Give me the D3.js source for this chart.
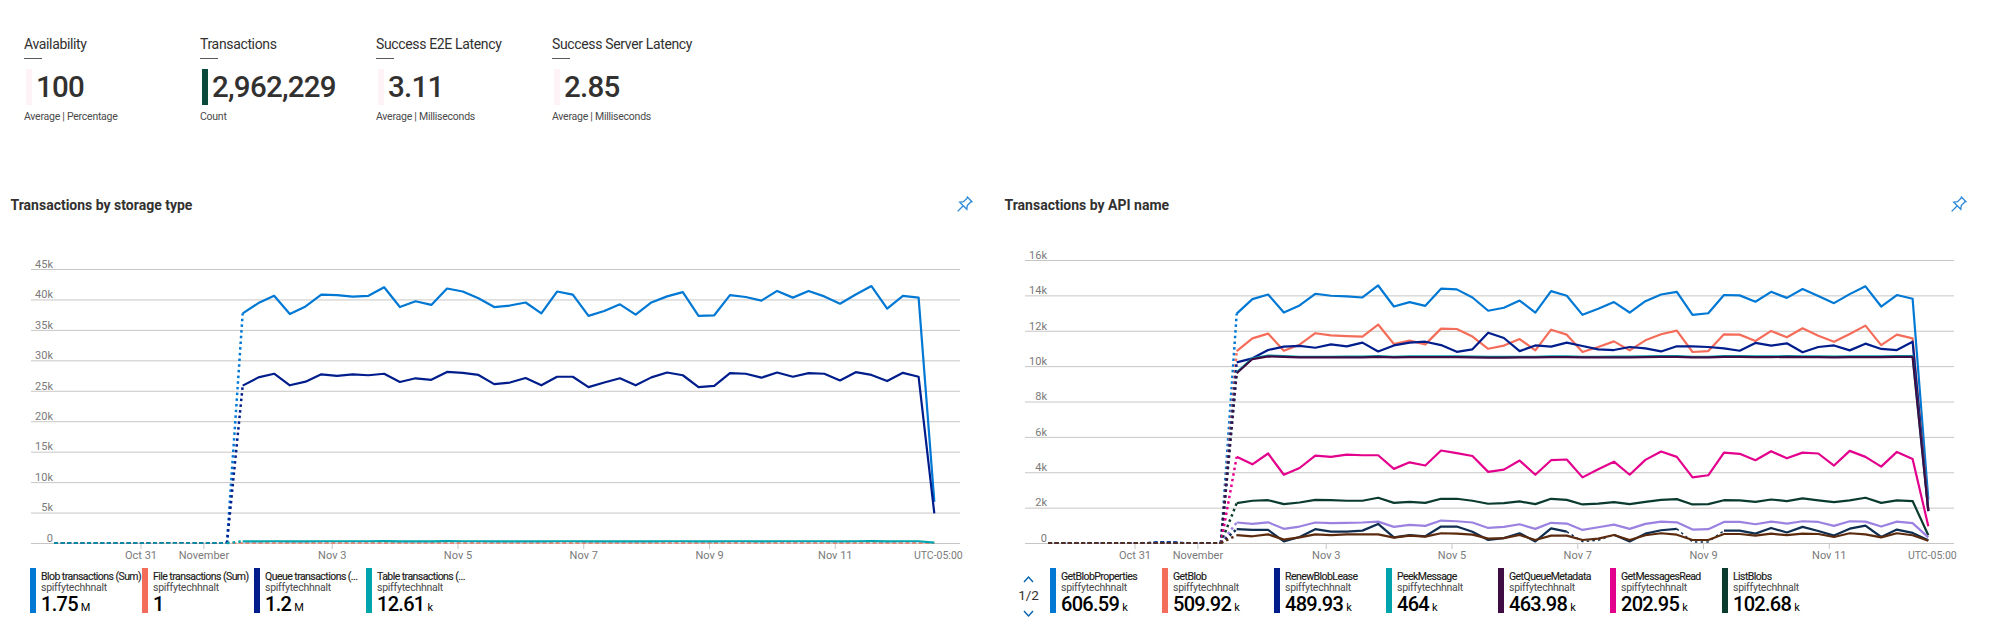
<!DOCTYPE html>
<html><head><meta charset="utf-8">
<script src="https://cdn.jsdelivr.net/npm/d3@7"></script>
<style>
html,body{margin:0;padding:0;background:#fff;overflow:hidden}
svg{display:block}
text{font-family:Roboto,"Open Sans",sans-serif}
</style></head><body><svg id="c" width="1993" height="643"></svg>
<script>
// KPI tiles
const kpiTitles=["Availability","Transactions","Success E2E Latency","Success Server Latency"];
const kpiValues=["100","2,962,229","3.11","2.85"];
const kpiSubs=["Average | Percentage","Count","Average | Milliseconds","Average | Milliseconds"];
const kpiBars=["#fef4f7","#0a4a3c","#fef4f7","#fef4f7"];

// Shared time axis, hours since Oct 31 00:00 local
const hours=d3.range(-33,304,6);
const tickHours=[0,24,73,121,169,217,265];
const tickLabels=["Oct 31","November","Nov 3","Nov 5","Nov 7","Nov 9","Nov 11"];

// Quiet period before the first busy sample (12 samples)
const idle=[0,0,0,0,0,0,0,0,0,0,0,0];
const idleBump=[0,0,0,0,0,0,0,0.06,0.06,0,0,0];

// Left chart (thousands)
const leftTicks=[0,5,10,15,20,25,30,35,40,45];
const blobTx=[37.7,39.4,40.6,37.6,38.85,40.8,40.7,40.45,40.6,42.0,38.75,39.7,39.1,41.8,41.3,40.2,38.75,39,39.5,37.7,41.3,40.8,37.3,38.1,39.2,37.5,39.5,40.5,41.2,37.3,37.4,40.7,40.4,39.8,41.4,40.3,41.4,40.5,39.3,40.8,42.2,38.5,40.6,40.3,6.75];
const fileTx=[0,0,0,0,0,0,0,0,0,0,0,0,0,0,0,0,0,0,0,0,0,0,0,0,0,0,0,0,0,0,0,0,0,0,0,0,0,0,0,0,0,0,0,0,0];
const queueTx=[25.85,27.2,27.8,25.9,26.5,27.7,27.45,27.7,27.55,27.8,26.45,27.05,26.8,28.1,27.95,27.6,26.1,26.35,27.1,25.9,27.3,27.3,25.6,26.35,27.05,25.9,27.2,28,27.55,25.6,25.8,27.9,27.8,27.15,28,27.3,27.9,27.8,26.7,28.05,27.6,26.6,27.95,27.3,4.85];
const tableTx=[0.27,0.28,0.29,0.27,0.28,0.29,0.29,0.29,0.29,0.3,0.27,0.28,0.28,0.3,0.29,0.29,0.27,0.27,0.28,0.27,0.29,0.29,0.27,0.27,0.28,0.27,0.28,0.29,0.29,0.27,0.27,0.29,0.29,0.28,0.29,0.29,0.29,0.29,0.28,0.29,0.3,0.27,0.29,0.29,0.05];
const leftNames=["Blob transactions (Sum)","File transactions (Sum)","Queue transactions (...","Table transactions (..."];
const leftTotals=["1.75","1","1.2","12.61"];
const leftUnits=["M","","M","k"];
const leftColors=["#0078d4","#f46d5a","#001d8c","#00a4ad"];

// Right chart (thousands)
const rightTicks=[0,2,4,6,8,10,12,14,16];
const getBlobProperties=[12.97,13.79,14.05,13.03,13.43,14.09,13.98,13.94,13.88,14.56,13.37,13.62,13.41,14.38,14.34,13.88,13.13,13.30,13.71,13.03,14.24,13.98,12.90,13.24,13.62,13.03,13.67,14.05,14.20,12.90,12.99,14.02,14.0,13.64,14.2,13.86,14.36,13.96,13.56,14.07,14.51,13.37,14.02,13.81,2.46];
const getBlob=[10.85,11.57,11.84,10.87,11.21,11.86,11.74,11.70,11.67,12.35,11.25,11.44,11.23,12.12,12.10,11.67,10.98,11.16,11.53,10.89,12.06,11.78,10.80,11.08,11.40,10.89,11.46,11.80,12.01,10.80,10.85,11.80,11.78,11.42,11.99,11.63,12.14,11.72,11.38,11.82,12.29,11.19,11.78,11.57,1.9];
const renewBlobLease=[10.21,10.44,10.91,11.10,11.14,11.04,11.23,11.12,11.33,10.83,11.17,11.33,11.38,11.19,10.81,10.95,11.89,11.59,10.85,11.17,11.10,11.33,11.14,10.95,10.91,11.08,11.0,10.83,11.12,11.12,11.08,11.0,10.87,11.31,11.16,11.29,10.78,11.08,11.17,10.89,11.27,10.97,10.91,11.38,1.8];
const peekMessage=[9.65,10.44,10.6,10.56,10.53,10.53,10.53,10.54,10.54,10.56,10.53,10.55,10.55,10.55,10.55,10.54,10.52,10.52,10.53,10.53,10.55,10.55,10.53,10.53,10.54,10.54,10.55,10.56,10.56,10.53,10.53,10.56,10.56,10.55,10.55,10.56,10.55,10.55,10.54,10.55,10.55,10.55,10.56,10.56,1.85];
const getQueueMetadata=[9.6,10.4,10.55,10.52,10.49,10.49,10.49,10.5,10.5,10.52,10.49,10.51,10.51,10.51,10.51,10.5,10.48,10.48,10.49,10.49,10.51,10.51,10.49,10.49,10.5,10.5,10.51,10.52,10.52,10.49,10.49,10.52,10.52,10.51,10.51,10.52,10.51,10.51,10.5,10.51,10.51,10.51,10.52,10.52,1.8];
const getMessagesRead=[4.87,4.45,5.06,3.86,4.24,4.94,4.87,5.0,4.96,4.96,4.19,4.56,4.38,5.23,5.08,4.92,4.02,4.15,4.66,3.86,4.68,4.72,3.71,4.17,4.60,3.86,4.70,5.17,4.87,3.71,3.83,5.11,5.04,4.68,5.19,4.79,5.11,5.06,4.38,5.21,4.87,4.32,5.15,4.75,0.95];
const listBlobs=[2.25,2.39,2.42,2.20,2.29,2.44,2.42,2.39,2.39,2.56,2.27,2.33,2.27,2.5,2.5,2.39,2.22,2.25,2.35,2.2,2.5,2.44,2.18,2.23,2.31,2.2,2.33,2.44,2.48,2.18,2.2,2.42,2.41,2.33,2.46,2.37,2.52,2.41,2.31,2.41,2.56,2.27,2.41,2.37,0.44];
const page2SeriesA=[1.16,1.08,1.17,0.80,0.93,1.16,1.12,1.14,1.16,1.21,0.91,1.02,0.97,1.27,1.23,1.16,0.85,0.91,1.06,0.80,1.14,1.10,0.74,0.89,1.04,0.80,1.08,1.21,1.17,0.76,0.78,1.19,1.19,1.06,1.21,1.10,1.23,1.19,0.97,1.23,1.21,0.93,1.21,1.12,0.32];
const page2SeriesB=[0.78,0.74,0.74,0.09,0.34,0.78,0.64,0.64,0.70,1.08,0.32,0.45,0.38,0.93,0.93,0.64,0.17,0.28,0.55,0.09,0.83,0.64,0.08,0.15,0.47,0.09,0.53,0.72,0.80,0.06,0.06,0.70,0.70,0.53,0.85,0.59,0.91,0.68,0.42,0.81,0.98,0.34,0.76,0.57,0.15];
const page2SeriesC=[0.44,0.38,0.49,0.19,0.32,0.49,0.45,0.49,0.49,0.49,0.30,0.42,0.36,0.55,0.53,0.47,0.25,0.28,0.45,0.17,0.42,0.42,0.17,0.25,0.45,0.17,0.44,0.55,0.47,0.17,0.17,0.51,0.51,0.42,0.53,0.44,0.53,0.51,0.34,0.55,0.49,0.32,0.55,0.44,0.13];
const page2Gaps=[21,22,23,28,29,30];
const rightNames=["GetBlobProperties","GetBlob","RenewBlobLease","PeekMessage","GetQueueMetadata","GetMessagesRead","ListBlobs"];
const rightTotals=["606.59","509.92","489.93","464","463.98","202.95","102.68"];
const rightUnits=["k","k","k","k","k","k","k"];
const rightColors=["#0078d4","#f46d5a","#001d8c","#00a4ad","#3f0d43","#e3008c","#0a3b2e","#9b82e0","#0f2d4f","#5c2b0e"];
const resourceName="spiffytechhnalt";

const svg=d3.select("#c");

// KPI row
const kx=d3.scalePoint().domain(d3.range(4)).range([24,552]);
kpiTitles.forEach((t,i)=>{
  const g=svg.append("g").attr("transform",`translate(${kx(i)},0)`);
  g.append("text").attr("y",44).attr("dy",".35em").attr("font-size",14).attr("letter-spacing",-0.35).attr("fill","#323130").text(t);
  g.append("rect").attr("y",58).attr("width",18).attr("height",1).attr("fill","#5a5a5a");
  g.append("rect").attr("x",2).attr("y",69).attr("width",6).attr("height",36).attr("fill",kpiBars[i]);
  g.append("text").attr("x",12).attr("y",87).attr("dy",".35em").attr("font-size",29.5).attr("font-weight",500).attr("fill","#323130").attr("letter-spacing",-0.75).text(kpiValues[i]);
  g.append("text").attr("y",116).attr("dy",".35em").attr("font-size",10.5).attr("letter-spacing",-0.25).attr("fill","#4a4a4a").text(kpiSubs[i]);
});

function pin(x,y){
  const g=svg.append("g").attr("transform",`translate(${x},${y}) rotate(45)`).attr("fill","none").attr("stroke","#2b88d8").attr("stroke-width",1.3);
  g.append("path").attr("d","M-4,-8 H4 M-2.6,-8 V-2 L-5,1 H5 L2.6,-2 V-8 M0,1 V9");
}

function chart(o){
  const x=d3.scaleLinear().domain([-41.8,312.8]).range(o.xr);
  const y=d3.scaleLinear().domain([0,o.max]).range([543,o.top]);
  svg.append("text").attr("x",o.xr[0]-20.5).attr("y",205).attr("dy",".35em").attr("font-size",14).attr("font-weight",700).attr("fill","#323130").text(o.title);
  pin(o.xr[1]+4,205);

  const ya=svg.append("g").attr("transform",`translate(${o.xr[0]},0)`)
    .call(d3.axisLeft(y).tickValues(o.ticks).tickSize(-(o.xr[1]-o.xr[0])).tickFormat(d=>d?d+"k":"0"));
  ya.select(".domain").remove();
  ya.selectAll(".tick line").attr("stroke","#c8c6c4");
  ya.selectAll(".tick text").attr("x",22).attr("dy","-0.16em").attr("font-size",11).attr("fill","#7a7a7a").attr("font-family","Roboto");

  const xa=svg.append("g").attr("transform","translate(0,543)")
    .call(d3.axisBottom(x).tickValues(tickHours).tickSize(6).tickPadding(2).tickFormat((d,i)=>tickLabels[i]));
  xa.select(".domain").attr("stroke","#c8c6c4").attr("d",`M${o.xr[0]},0.5H${o.xr[1]}`);
  xa.selectAll(".tick line").attr("stroke","#c8c6c4");
  xa.selectAll(".tick text").attr("font-size",11).attr("fill","#7a7a7a").attr("font-family","Roboto");
  svg.append("text").attr("x",x(303)+4).attr("y",555).attr("dy",".35em").attr("text-anchor","middle").attr("font-size",10.5).attr("fill","#7a7a7a").text("UTC-05:00");

  const line=d3.line().x(d=>x(d[0])).y(d=>y(d[1]));
  o.series.forEach(s=>{
    const pts=hours.map((h,i)=>[h,s.v[i]]);
    const styleOf=i=> s.allDashed?"idle": i<11?"idle": i===11?"dot": (s.gaps||[]).includes(i-12)?"gap":"solid";
    let a=0;
    for(let i=0;i<pts.length-1;i++){
      const st=styleOf(i);
      if(i===pts.length-2||styleOf(i+1)!==st){
        const p=svg.append("path").attr("d",line(pts.slice(a,i+2))).attr("fill","none").attr("stroke",s.c).attr("stroke-linejoin","round");
        if(st==="idle")p.attr("stroke-width",1.3).attr("stroke-dasharray","4,2.6");
        else if(st==="dot")p.attr("stroke-width",2.5).attr("stroke-dasharray","2.5,3.2");
        else if(st==="gap")p.attr("stroke-width",1.5).attr("stroke-dasharray","2.5,3.2");
        else p.attr("stroke-width",2.2);
        a=i+1;
      }
    }
  });
}

chart({title:"Transactions by storage type",xr:[31,960],max:45,top:269,ticks:leftTicks,series:[
  {v:idleBump.concat(blobTx),c:leftColors[0]},
  {v:idle.concat(fileTx),c:leftColors[1],allDashed:true},
  {v:idleBump.concat(queueTx),c:leftColors[2]},
  {v:idle.concat(tableTx),c:leftColors[3]}
]});
chart({title:"Transactions by API name",xr:[1025,1954],max:16,top:260,ticks:rightTicks,series:[
  {v:idleBump.concat(getBlobProperties),c:rightColors[0]},
  {v:idle.concat(getBlob),c:rightColors[1]},
  {v:idleBump.concat(renewBlobLease),c:rightColors[2]},
  {v:idle.concat(peekMessage),c:rightColors[3]},
  {v:idle.concat(getQueueMetadata),c:rightColors[4]},
  {v:idle.concat(getMessagesRead),c:rightColors[5]},
  {v:idle.concat(listBlobs),c:rightColors[6]},
  {v:idle.concat(page2SeriesA),c:rightColors[7]},
  {v:idle.concat(page2SeriesB),c:rightColors[8],gaps:page2Gaps},
  {v:idle.concat(page2SeriesC),c:rightColors[9]}
]});

function legend(x0,names,totals,units,colors){
  const lx=d3.scaleLinear().domain([0,1]).range([x0,x0+112]);
  names.forEach((n,i)=>{
    const g=svg.append("g").attr("transform",`translate(${lx(i)},0)`);
    g.append("rect").attr("y",568).attr("width",6).attr("height",45).attr("fill",colors[i]);
    g.append("text").attr("x",11).attr("y",576).attr("dy",".35em").attr("font-size",10.5).attr("letter-spacing",-0.55).attr("fill","#1b1a19").attr("stroke","#1b1a19").attr("stroke-width",0.15).text(n);
    g.append("text").attr("x",11).attr("y",587).attr("dy",".35em").attr("font-size",10.5).attr("letter-spacing",-0.25).attr("fill","#4a4a4a").text(resourceName);
    const t=g.append("text").attr("x",11).attr("y",605.5).attr("dy",".35em").attr("fill","#000");
    t.append("tspan").attr("font-size",20).attr("font-weight",500).attr("letter-spacing",-0.7).text(totals[i]);
    t.append("tspan").attr("font-size",11).attr("dx",3).text(units[i]);
  });
}
legend(30,leftNames,leftTotals,leftUnits,leftColors);
legend(1050,rightNames,rightTotals,rightUnits,rightColors);

// Legend pager
const pg=svg.append("g").attr("fill","none").attr("stroke","#0063b1").attr("stroke-width",1.4);
pg.append("path").attr("d","M1024,582 L1028.5,577 L1033,582");
pg.append("path").attr("d","M1024,611 L1028.5,616 L1033,611");
svg.append("text").attr("x",1028.5).attr("y",595).attr("dy",".35em").attr("text-anchor","middle").attr("font-size",13.5).attr("fill","#323130").text("1/2");
</script></body></html>
